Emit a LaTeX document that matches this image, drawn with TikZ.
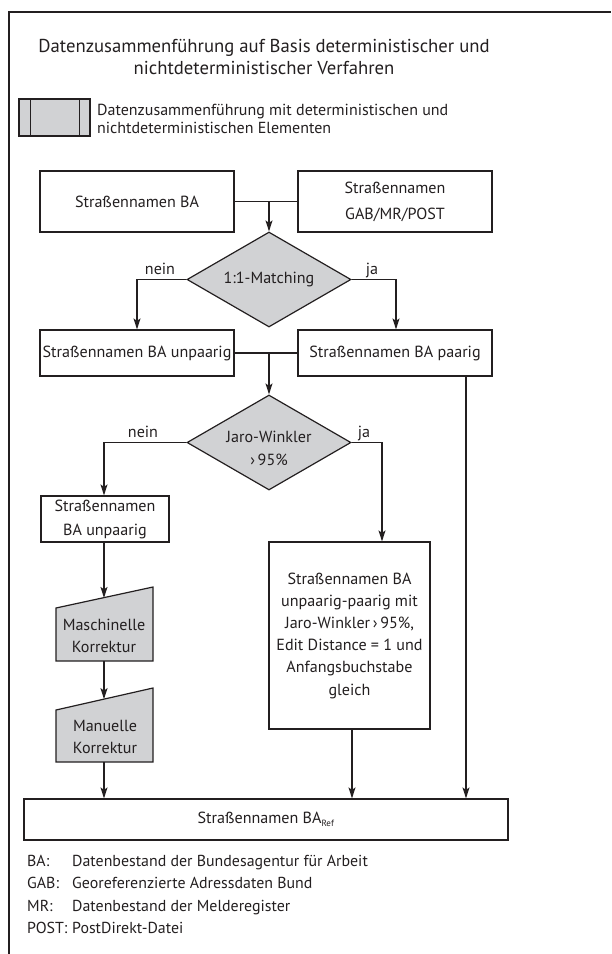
\documentclass[tikz,border=0pt]{standalone}
\usepackage{fontspec}
\setmainfont{PT Sans}
\usetikzlibrary{arrows.meta,shapes.geometric}
\definecolor{ink}{RGB}{35,31,32}
\definecolor{fillgray}{RGB}{209,210,212}
\tikzset{
  box/.style={draw=ink, line width=1.2pt, fill=white, inner sep=0pt, align=center, text=ink, font=\fontsize{16.1}{22}\selectfont},
  dia/.style={draw=ink, line width=1.2pt, fill=fillgray, diamond, inner sep=0pt, minimum width=164pt, minimum height=95pt},
  txt/.style={inner sep=0pt, align=center, text=ink, font=\fontsize{16.1}{22}\selectfont},
  lbl/.style={inner sep=0pt, text=ink, font=\fontsize{16.1}{18}\selectfont},
  conn/.style={draw=ink, line width=1.2pt},
  arr/.style={conn, -{Stealth[length=11pt,width=7pt,inset=2.5pt]}},
  foot/.style={inner sep=0pt, anchor=base west, text=ink, font=\fontsize{15.9}{18}\selectfont},
}
\begin{document}
\begin{tikzpicture}[x=1pt,y=-1pt]
\useasboundingbox (0,0) rectangle (611,954);
% frame
\draw[ink, line width=2pt] (9,954) -- (9,12) -- (611,12);
% title
\node[txt, font=\fontsize{18.7}{21.5}\selectfont] (title) at (264,57) {Datenzusammenführung auf Basis deterministischer und\\nichtdeterministischer Verfahren};
% legend
\node[draw=ink, line width=1.6pt, fill=fillgray, minimum width=71pt, minimum height=37pt, inner sep=0pt] (leg) at (54.5,117.5) {};
\draw[ink, line width=0.9pt] ([xshift=12pt]leg.north west) -- ([xshift=12pt]leg.south west);
\draw[ink, line width=0.9pt] ([xshift=-11pt]leg.north east) -- ([xshift=-11pt]leg.south east);
\node[txt, align=left, anchor=west, font=\fontsize{16}{18.5}\selectfont] (legtxt) at (97,119) {Datenzusammenführung mit deterministischen und\\nichtdeterministischen Elementen};
% row 1
\node[box, minimum width=194pt, minimum height=61pt] (ba) at (137,201.5) {Straßennamen BA};
\node[box, minimum width=194pt, minimum height=61pt, font=\fontsize{16.1}{26}\selectfont] (gab) at (395,201.5) {Straßennamen\\GAB/MR/POST};
% diamond 1
\node[dia] (m1) at (269,279.5) {};
\node[txt] (m1t) at (m1) {1:1-Matching};
% row 2
\node[box, minimum width=194pt, minimum height=46pt] (unp) at (137,353) {Straßennamen BA unpaarig};
\node[box, minimum width=194pt, minimum height=46pt] (paar) at (395,353) {Straßennamen BA paarig};
% diamond 2
\node[dia] (m2) at (269,442.5) {};
\node[txt, font=\fontsize{16.1}{23}\selectfont] (m2t) at (269,448) {Jaro-Winkler\\›\,95\%};
% left column
\node[box, minimum width=128pt, minimum height=46pt, font=\fontsize{16.1}{24}\selectfont] (unp2) at (105,519) {Straßennamen\\BA unpaarig};
\coordinate (t1a) at (56,608); \coordinate (t1b) at (153,587);
\coordinate (t1c) at (153,661); \coordinate (t1d) at (56,661);
\draw[ink, line width=1.2pt, fill=fillgray] (t1a) -- (t1b) -- (t1c) -- (t1d) -- cycle;
\node[txt] (t1) at (104,636) {Maschinelle\\Korrektur};
\coordinate (t2a) at (56,710); \coordinate (t2b) at (153,688);
\coordinate (t2c) at (153,762); \coordinate (t2d) at (56,762);
\draw[ink, line width=1.2pt, fill=fillgray] (t2a) -- (t2b) -- (t2c) -- (t2d) -- cycle;
\node[txt] (t2) at (105,737) {Manuelle\\Korrektur};
% big box
\node[box, minimum width=161pt, minimum height=187pt, font=\fontsize{16.1}{22.2}\selectfont] (big) at (349.5,635.5) {Straßennamen BA\\unpaarig-paarig mit\\Jaro-Winkler\,›\,95\%,\\Edit Distance = 1 und\\Anfangsbuchstabe\\gleich};
% result box
\node[box, minimum width=484pt, minimum height=41pt] (ref) at (266,819.5) {Straßennamen BA\textsubscript{\fontsize{9}{9}\selectfont Ref}};
% connectors
\draw[conn] (ba.east) -- (gab.west);
\draw[arr] (m1.north |- ba.east) -- (m1.north);
\draw[arr] (m1.west) -| (unp.north);
\draw[arr] (m1.east) -| ([xshift=1pt]paar.north);
\node[lbl, anchor=base] (nein1) at (160,274) {nein};
\node[lbl, anchor=base] (ja1) at (372,274) {ja};
\draw[conn] (unp.east) -- (paar.west);
\draw[arr] (m2.north |- unp.east) -- (m2.north);
\coordinate (pr) at (466,376);
\draw[arr] (pr) -- (pr |- ref.north);
\draw[arr] (m2.west) -| ([xshift=-1pt]unp2.north);
\draw[arr] (m2.east) -| ([xshift=32.5pt]big.north);
\node[lbl, anchor=base] (nein2) at (143,437) {nein};
\node[lbl, anchor=base] (ja2) at (364,437) {ja};
\coordinate (t1in) at (104,597.9);
\coordinate (t1out) at (104,661);
\coordinate (t2in) at (104,699.1);
\coordinate (t2out) at (104,762);
\draw[arr] ([xshift=-1pt]unp2.south) -- (t1in);
\draw[arr] (t1out) -- (t2in);
\draw[arr] (t2out) -- (t2out |- ref.north);
\draw[arr] ([xshift=2.5pt]big.south) -- ([xshift=2.5pt]big.south |- ref.north);
% footnotes
\node[foot] (f1) at (27,866) {BA:};
\node[foot] (f1d) at (72,866) {Datenbestand der Bundesagentur für Arbeit};
\node[foot] (f2) at (27,888) {GAB:};
\node[foot] (f2d) at (72,888) {Georeferenzierte Adressdaten Bund};
\node[foot] (f3) at (27,911) {MR:};
\node[foot] (f3d) at (72,911) {Datenbestand der Melderegister};
\node[foot] (f4) at (27,933) {POST:};
\node[foot] (f4d) at (72,933) {PostDirekt-Datei};
\end{tikzpicture}
\end{document}
